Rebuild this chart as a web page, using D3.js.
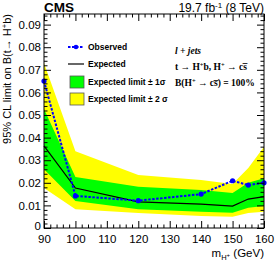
<!DOCTYPE html>
<html><head><meta charset="utf-8">
<script src="https://cdn.jsdelivr.net/npm/d3@7"></script>
<style>body{margin:0;background:#fff}svg{display:block}</style>
</head><body>
<svg id="c" width="276" height="265"></svg>
<script>
const masses = [90,100,120,140,150,155,160];
const observed = [0.065,0.0142,0.0121,0.015,0.0209,0.019,0.020];
const expected = [0.0363,0.0177,0.0116,0.0106,0.0097,0.0128,0.0139];
const exp1Lo = [0.026,0.012,0.0083,0.0072,0.0068,0.009,0.0097];
const exp1Hi = [0.0527,0.0226,0.0183,0.0168,0.0155,0.020,0.022];
const exp2Lo = [0.0177,0.0083,0.0066,0.0053,0.005,0.0066,0.0072];
const exp2Hi = [0.073,0.034,0.0235,0.0212,0.0195,0.0265,0.036];
const xTicks = [90,100,110,120,130,140,150,160];
const yTicks = [0,0.01,0.02,0.03,0.04,0.05,0.06,0.07,0.08,0.09];
const yTickLabels = ["0","0.01","0.02","0.03","0.04","0.05","0.06","0.07","0.08","0.09"];

const svg = d3.select("#c");
const L=44,R=264,T=14,B=228;
const x = d3.scaleLinear().domain([90,160]).range([L,R]);
const y = d3.scaleLinear().domain([0,0.0947]).range([B,T]);
const font = "'Liberation Sans', Arial, sans-serif";
const idx = d3.range(masses.length);

const area = (lo,hi)=>d3.area().x(i=>x(masses[i])).y0(i=>y(lo[i])).y1(i=>y(hi[i]));
svg.append("path").datum(idx).attr("d",area(exp2Lo,exp2Hi)).attr("fill","#ffff00");
svg.append("path").datum(idx).attr("d",area(exp1Lo,exp1Hi)).attr("fill","#00ff00");
const line = vals=>d3.line().x(i=>x(masses[i])).y(i=>y(vals[i]));
svg.append("path").datum(idx).attr("d",line(expected)).attr("fill","none").attr("stroke","#000").attr("stroke-width",1.2);
svg.append("path").datum(idx).attr("d",line(observed)).attr("fill","none").attr("stroke","#0000ff").attr("stroke-width",2).attr("stroke-dasharray","2.5,1.5");
svg.selectAll("circle.obs").data(idx).enter().append("circle").attr("cx",i=>x(masses[i])).attr("cy",i=>y(observed[i])).attr("r",2.6).attr("fill","#0000ff");

// frame
svg.append("rect").attr("x",L).attr("y",T).attr("width",R-L).attr("height",B-T).attr("fill","none").attr("stroke","#000").attr("stroke-width",1);

// axes with inward ticks
const xMinor = d3.range(90,161,2).filter(v=>v%10!==0);
const yMinor = d3.range(0,0.0947,0.002).filter(v=>Math.abs(Math.round(v*100)-v*100)>1e-6);
const gB = svg.append("g").attr("transform",`translate(0,${B})`);
gB.call(d3.axisBottom(x).tickValues(xTicks).tickSize(-7).tickPadding(4).tickFormat(d3.format("d")));
gB.append("g").call(d3.axisBottom(x).tickValues(xMinor).tickSize(-3.5).tickFormat(""));
const gT = svg.append("g").attr("transform",`translate(0,${T})`);
gT.call(d3.axisTop(x).tickValues(xTicks).tickSize(-7).tickFormat(""));
gT.append("g").call(d3.axisTop(x).tickValues(xMinor).tickSize(-3.5).tickFormat(""));
const gL = svg.append("g").attr("transform",`translate(${L},0)`);
gL.call(d3.axisLeft(y).tickValues(yTicks).tickSize(-7).tickPadding(3).tickFormat((d,i)=>yTickLabels[i]));
gL.append("g").call(d3.axisLeft(y).tickValues(yMinor).tickSize(-3.5).tickFormat(""));
const gR = svg.append("g").attr("transform",`translate(${R},0)`);
gR.call(d3.axisRight(y).tickValues(yTicks).tickSize(-7).tickFormat(""));
gR.append("g").call(d3.axisRight(y).tickValues(yMinor).tickSize(-3.5).tickFormat(""));
svg.selectAll(".domain").remove();
svg.selectAll(".tick line").attr("stroke","#000");
svg.selectAll(".tick text").attr("font-family",font).attr("font-size",11.5).attr("fill","#000");
gB.selectAll(".tick text").attr("y",0).attr("dy",null).attr("transform","translate(0,15)");
gL.selectAll(".tick text").filter(d=>d===0).attr("dy","0.1em");

// titles
svg.append("text").attr("x",44).attr("y",12).attr("font-family",font).attr("font-weight","bold").attr("font-size",13.5).text("CMS");
const lum = svg.append("text").attr("x",264).attr("y",12).attr("text-anchor","end").attr("font-family",font).attr("font-size",12);
lum.append("tspan").text("19.7 fb");
lum.append("tspan").attr("dy",-4).attr("font-size",8).text("-1");
lum.append("tspan").attr("dy",4).text(" (8 TeV)");

// y label
const yl = svg.append("text").attr("transform","translate(11,14) rotate(-90)").attr("text-anchor","end").attr("font-family",font).attr("font-size",11);
yl.append("tspan").text("95% CL limit on B(t\u2192 H");
yl.append("tspan").attr("dy",-4).attr("font-size",7.5).text("+");
yl.append("tspan").attr("dy",4).text("b)");

// x label
const xl = svg.append("text").attr("x",264).attr("y",257).attr("text-anchor","end").attr("font-family",font).attr("font-size",11.5);
xl.append("tspan").text("m");
xl.append("tspan").attr("dy",3).attr("font-size",7.5).text("H");
xl.append("tspan").attr("dy",-3).attr("font-size",6).text("+");
xl.append("tspan").attr("dy",0).text(" (GeV)");

// legend
const lg = svg.append("g").attr("font-family",font).attr("font-weight","bold").attr("font-size",8.5);
const lx=68, tx=88;
lg.append("line").attr("x1",lx).attr("x2",lx+16).attr("y1",47).attr("y2",47).attr("stroke","#0000ff").attr("stroke-width",2).attr("stroke-dasharray","2.5,1.5");
lg.append("circle").attr("cx",lx+8).attr("cy",47).attr("r",2.3).attr("fill","#0000ff");
lg.append("text").attr("x",tx).attr("y",50).text("Observed");
lg.append("line").attr("x1",lx).attr("x2",lx+16).attr("y1",64).attr("y2",64).attr("stroke","#000").attr("stroke-width",1.2);
lg.append("text").attr("x",tx).attr("y",67).text("Expected");
lg.append("rect").attr("x",70).attr("y",76).attr("width",14).attr("height",12).attr("fill","#00ff00").attr("stroke","#555").attr("stroke-width",0.8);
lg.append("text").attr("x",tx).attr("y",85).text("Expected limit \u00b1 1\u03c3");
lg.append("rect").attr("x",70).attr("y",93).attr("width",14).attr("height",12).attr("fill","#ffff00").attr("stroke","#555").attr("stroke-width",0.8);
lg.append("text").attr("x",tx).attr("y",102).text("Expected limit \u00b1 2\u00a0\u03c3");

// annotation
const sf = "'Liberation Serif', 'Times New Roman', serif";
const an = svg.append("g").attr("font-family",sf).attr("font-weight","bold").attr("font-size",9.5);
an.append("text").attr("x",175).attr("y",54).attr("font-style","italic").text("l + jets");
const a2 = an.append("text").attr("x",175).attr("y",69.5);
a2.append("tspan").text("t \u2192 H");
a2.append("tspan").attr("dy",-3).attr("font-size",6.5).text("+");
a2.append("tspan").attr("dy",3).text("b, H");
a2.append("tspan").attr("dy",-3).attr("font-size",6.5).text("+");
a2.append("tspan").attr("dy",3).text(" \u2192 cs\u0305");
const a3 = an.append("text").attr("x",175).attr("y",86);
a3.append("tspan").text("B(H");
a3.append("tspan").attr("dy",-3).attr("font-size",6.5).text("+");
a3.append("tspan").attr("dy",3).text(" \u2192 cs\u0305) = 100%");
</script>
</body></html>
